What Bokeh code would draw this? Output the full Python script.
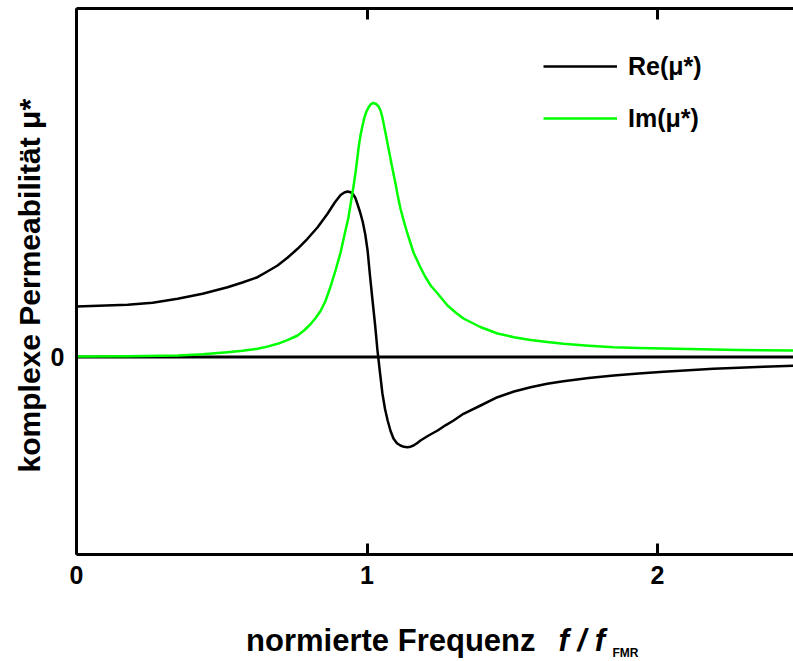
from bokeh.plotting import figure
from bokeh.models import (Range1d, LinearAxis, FixedTicker, Span, Label,
                          Legend, LegendItem)
from bokeh.embed import file_html
from bokeh.resources import INLINE
import math

# ---- data (normalised frequency f/f_FMR) ----
freq_re = [0.000, 0.176, 0.262, 0.348, 0.434, 0.520, 0.571, 0.623, 0.657, 0.692,
           0.726, 0.761, 0.795, 0.830, 0.864, 0.889, 0.909, 0.922, 0.933, 0.944,
           0.952, 0.960, 0.967, 0.976, 0.985, 0.994, 1.002, 1.010, 1.019, 1.028,
           1.036, 1.045, 1.053, 1.062, 1.071, 1.081, 1.091, 1.103, 1.115, 1.127,
           1.139, 1.150, 1.160, 1.172, 1.184, 1.212, 1.243, 1.270, 1.298, 1.332,
           1.391, 1.449, 1.506, 1.563, 1.620, 1.676, 1.763, 1.849, 1.935, 2.021,
           2.107, 2.192, 2.280, 2.365, 2.468]
re_mu = [0.505, 0.522, 0.542, 0.582, 0.632, 0.698, 0.745, 0.798, 0.855, 0.915,
         0.992, 1.082, 1.182, 1.298, 1.432, 1.545, 1.620, 1.645, 1.655, 1.648,
         1.628, 1.590, 1.530, 1.450, 1.355, 1.225, 1.065, 0.820, 0.565, 0.315,
         0.065, -0.165, -0.365, -0.520, -0.635, -0.740, -0.815, -0.862, -0.885, -0.898,
         -0.902, -0.897, -0.885, -0.862, -0.835, -0.785, -0.735, -0.683, -0.635, -0.568,
         -0.485, -0.402, -0.345, -0.302, -0.268, -0.242, -0.210, -0.185, -0.165, -0.148,
         -0.132, -0.118, -0.107, -0.098, -0.088]

freq_im = [0.000, 0.174, 0.348, 0.434, 0.520, 0.571, 0.623, 0.657, 0.692, 0.726,
           0.761, 0.785, 0.806, 0.823, 0.840, 0.857, 0.874, 0.892, 0.909, 0.922,
           0.936, 0.945, 0.954, 0.961, 0.967, 0.972, 0.978, 0.985, 0.991, 0.998,
           1.005, 1.013, 1.022, 1.031, 1.040, 1.047, 1.053, 1.063, 1.074, 1.086,
           1.098, 1.106, 1.115, 1.127, 1.139, 1.160, 1.184, 1.200, 1.219, 1.243,
           1.277, 1.305, 1.332, 1.390, 1.449, 1.506, 1.563, 1.620, 1.676, 1.763,
           1.849, 1.935, 2.021, 2.107, 2.192, 2.280, 2.365, 2.468]
im_mu = [0.005, 0.008, 0.015, 0.028, 0.048, 0.062, 0.082, 0.104, 0.132, 0.168,
         0.215, 0.270, 0.330, 0.390, 0.460, 0.560, 0.700, 0.870, 1.045, 1.215,
         1.395, 1.555, 1.715, 1.855, 1.995, 2.115, 2.225, 2.320, 2.395, 2.455,
         2.495, 2.528, 2.540, 2.530, 2.505, 2.460, 2.395, 2.250, 2.085, 1.905,
         1.735, 1.610, 1.485, 1.355, 1.235, 1.045, 0.895, 0.805, 0.715, 0.635,
         0.515, 0.445, 0.385, 0.300, 0.235, 0.198, 0.170, 0.150, 0.132, 0.113,
         0.098, 0.091, 0.085, 0.080, 0.075, 0.071, 0.068, 0.065]

x_ticks = [0, 1, 2]
y_ticks = [0]
y_tick_labels = ["0"]
series_labels = ["Re(\u03bc*)", "Im(\u03bc*)"]
x_title = "normierte Frequenz"
x_title_sym = "f / f"
x_title_sub = "FMR"
y_title = "komplexe Permeabilit\u00e4t  \u03bc*"

FONT = "Liberation Sans"
X0, X1 = 0.0, 2.468
Y0, Y1 = -1.975, 3.485

p = figure(width=793, height=661, output_backend="svg", toolbar_location=None,
           x_range=Range1d(X0, X1), y_range=Range1d(Y0, Y1),
           x_axis_location=None, y_axis_location=None,
           min_border_left=76, min_border_right=0, min_border_top=8,
           min_border_bottom=107)
p.grid.visible = False
p.outline_line_color = None
p.background_fill_color = "white"
p.border_fill_color = "white"

def style_axis(ax):
    ax.axis_line_width = 3
    ax.axis_line_color = "black"
    ax.major_tick_line_width = 3
    ax.major_tick_line_color = "black"
    ax.minor_tick_in = 0
    ax.minor_tick_out = 0
    ax.major_tick_out = 0
    ax.major_label_text_font = FONT
    ax.major_label_text_font_style = "bold"
    ax.major_label_text_font_size = "25px"
    ax.major_label_text_color = "black"

bottom = LinearAxis(ticker=FixedTicker(ticks=x_ticks))
style_axis(bottom)
bottom.major_tick_in = 11
bottom.major_label_standoff = 11
p.add_layout(bottom, "below")

top = LinearAxis(ticker=FixedTicker(ticks=x_ticks))
style_axis(top)
top.major_tick_in = 11
top.major_label_text_font_size = "1px"
top.major_label_text_color = None
top.major_label_standoff = 0
p.add_layout(top, "above")

# left axis: line only; its single tick label is drawn as a label below (saves panel width)
left = LinearAxis(ticker=FixedTicker(ticks=y_ticks))
style_axis(left)
left.major_tick_in = 0
left.major_label_overrides = {t: "" for t in y_ticks}
left.major_label_standoff = 0
p.add_layout(left, "left")

zero = Span(location=0, dimension="width", line_color="black", line_width=3,
            level="underlay")
p.add_layout(zero)

r_re = p.line(freq_re, re_mu, line_color="black", line_width=2.5, line_join="round")
r_im = p.line(freq_im, im_mu, line_color="#00ff00", line_width=2.5, line_join="round")

legend = Legend(items=[LegendItem(label=series_labels[0], renderers=[r_re]),
                       LegendItem(label=series_labels[1], renderers=[r_im])],
                location=(467, 421), orientation="vertical",
                glyph_width=74, glyph_height=30, label_height=30,
                label_standoff=11, spacing=22, padding=0, margin=0,
                border_line_color=None, background_fill_alpha=0,
                label_text_font=FONT, label_text_font_style="bold",
                label_text_font_size="25px", label_text_color="black")
p.add_layout(legend)

# helpers converting canvas pixel positions to data positions for annotation text
def X(px):
    return X0 + (px - 76) / 717 * (X1 - X0)

def Y(py):
    return Y1 - (py - 8) / 546 * (Y1 - Y0)

lab = dict(text_font=FONT, text_color="black", text_font_style="bold")
for t, s in zip(y_ticks, y_tick_labels):
    p.add_layout(Label(x=X(64), y=t, text=s, text_align="right",
                       text_baseline="middle", text_font_size="25px", **lab), "left")
p.add_layout(Label(x=X(29), y=Y(281), angle=math.pi / 2, text=y_title,
                   text_align="center", text_baseline="alphabetic",
                   text_font_size="30px", **lab), "left")
p.add_layout(Label(x=X(612), y=Y(652), text=x_title_sub, text_align="left",
                   text_baseline="alphabetic", text_font_size="12px", **lab), "left")
p.add_layout(Label(x=X(535), y=Y(640), text=x_title, text_align="right",
                   text_baseline="alphabetic", text_font_size="31px", **lab), "below")
lab_it = dict(lab, text_font_style="bold italic")
p.add_layout(Label(x=X(558), y=Y(640), text=x_title_sym, text_align="left",
                   text_baseline="alphabetic", text_font_size="31px", **lab_it), "below")

open("out.html", "w").write(file_html(p, INLINE))
